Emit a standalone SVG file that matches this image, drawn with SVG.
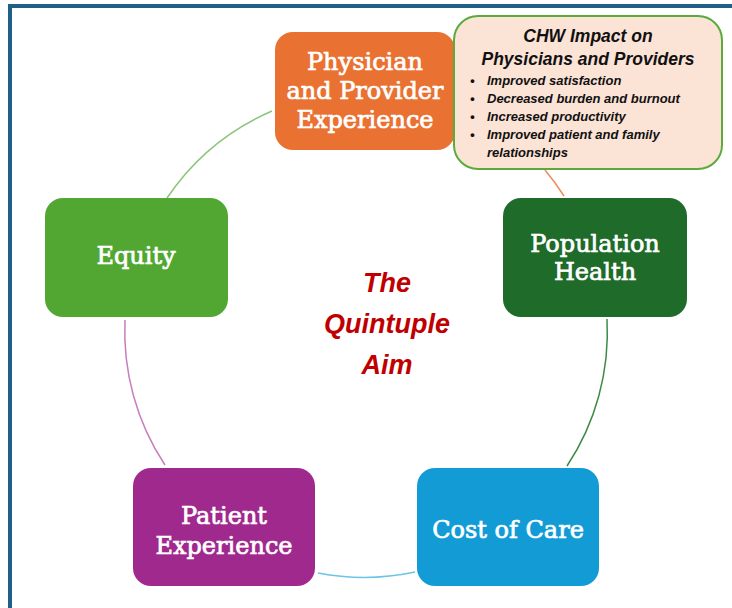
<svg xmlns="http://www.w3.org/2000/svg" width="732" height="608" viewBox="0 0 732 608">
<style>
.lbl{font-family:"DejaVu Serif","Liberation Serif",serif;font-size:24px;fill:#fff;stroke:#fff;stroke-width:0.7px;text-anchor:middle}
.hd{font-family:"Liberation Sans",Arial,sans-serif;font-weight:bold;font-style:italic;font-size:17.5px;fill:#111;text-anchor:middle}
.bl{font-family:"Liberation Sans",Arial,sans-serif;font-weight:bold;font-style:italic;font-size:13px;fill:#111}
.aim{font-family:"Liberation Sans",Arial,sans-serif;font-weight:bold;font-style:italic;font-size:27px;fill:#C00000;text-anchor:middle}
.arc{fill:none;stroke-width:1.5}
</style>
<rect width="732" height="608" fill="#fff"/>
<path d="M10,612 V6 H740" fill="none" stroke="#1F6089" stroke-width="4"/>
<g id="connectors">
<path class="arc" stroke="#8CC47A" d="M272,111 A242,242 0 0 0 167,198"/>
<path class="arc" stroke="#C77EBD" d="M125,320 A242,242 0 0 0 165,465"/>
<path class="arc" stroke="#6BC3E6" d="M318,573 A242,242 0 0 0 415,572"/>
<path class="arc" stroke="#3D8A45" d="M567,466 A242,242 0 0 0 607,319"/>
<path class="arc" stroke="#F08A5D" d="M564,196 A242,242 0 0 0 545,170"/>
</g>
<g id="physician">
<rect x="275" y="32" width="180" height="118" rx="18" fill="#E97132"/>
<text class="lbl" x="365" y="70">Physician</text>
<text class="lbl" x="365" y="99">and Provider</text>
<text class="lbl" x="365" y="128">Experience</text>
</g>
<g id="chw">
<rect x="454" y="16" width="268" height="153" rx="24" fill="#FBE3D6" stroke="#5AAB3C" stroke-width="2"/>
<text class="hd" x="588" y="42">CHW Impact on</text>
<text class="hd" x="588" y="65">Physicians and Providers</text>
<g class="bl">
<text x="470" y="85">•</text><text x="487" y="85">Improved satisfaction</text>
<text x="470" y="103">•</text><text x="487" y="103">Decreased burden and burnout</text>
<text x="470" y="121">•</text><text x="487" y="121">Increased productivity</text>
<text x="470" y="139">•</text><text x="487" y="139">Improved patient and family</text>
<text x="487" y="157">relationships</text>
</g>
</g>
<g id="population">
<rect x="503" y="198" width="184" height="119" rx="18" fill="#1E6B2A"/>
<text class="lbl" x="595" y="252">Population</text>
<text class="lbl" x="595" y="280">Health</text>
</g>
<g id="equity">
<rect x="45" y="198" width="183" height="119" rx="18" fill="#52A733"/>
<text class="lbl" x="136" y="264">Equity</text>
</g>
<g id="patient">
<rect x="133" y="468" width="182" height="118" rx="18" fill="#A0298E"/>
<text class="lbl" x="224" y="524">Patient</text>
<text class="lbl" x="224" y="554">Experience</text>
</g>
<g id="cost">
<rect x="417" y="468" width="182" height="118" rx="18" fill="#139BD6"/>
<text class="lbl" x="508" y="538">Cost of Care</text>
</g>
<g id="center">
<text class="aim" x="387" y="292">The</text>
<text class="aim" x="387" y="333">Quintuple</text>
<text class="aim" x="387" y="374">Aim</text>
</g>
</svg>
